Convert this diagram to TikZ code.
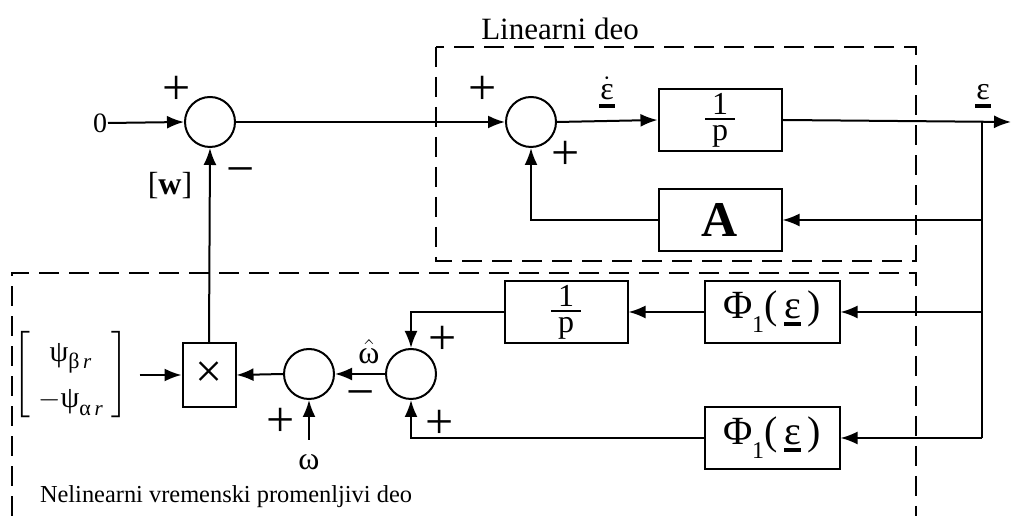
\documentclass[tikz,border=0pt]{standalone}
\usepackage{amsmath}
\usepackage{fontspec}
\setmainfont{Liberation Serif}
\usetikzlibrary{arrows.meta}
\newcommand\ulsym[1]{\leavevmode\vtop{\hbox{#1}\kern1.2pt\hrule height 2pt}}
\newcommand\onep{$\vcenter{\hbox to 15pt{\hfil 1\hfil}\kern2pt\hrule height 0.9pt\kern2.5pt\hbox to 15pt{\hfil p\hfil}}$}
\begin{document}
\begin{tikzpicture}[x=0.5pt,y=-0.5pt, line width=1pt,
  >={Latex[length=8.5pt,width=6.5pt]},
  sumc/.style={draw,circle,minimum size=25pt,inner sep=0pt},
  blk/.style={draw,minimum width=61.5pt,minimum height=31pt,inner sep=0pt},
  phiblk/.style={draw,minimum width=67.5pt,minimum height=31pt,inner sep=0pt,font=\fontsize{20}{20}\selectfont},
  frac/.style={font=\fontsize{16}{16}\selectfont},
  sgn/.style={inner sep=0pt,font=\fontsize{25}{25}\selectfont},
  lbl/.style={inner sep=0pt,font=\fontsize{12.2}{14}\selectfont},
  sym/.style={inner sep=0pt,font=\fontsize{16}{16}\selectfont},
  ulrule/.style={line width=2pt,line cap=butt},
  dbox/.style={dashed,dash pattern=on 10pt off 5pt,line width=0.8pt}]
\useasboundingbox (0,0) rectangle (1011,522);
% dashed regions
\draw[dbox] (436,47) rectangle (916,261);
\draw[dbox] (12,516) -- (12,273) -- (916,273) -- (916,516);
\node[lbl,font=\fontsize{15.5}{17}\selectfont,anchor=base] (tlin) at (560,40) {Linearni deo};
\node[lbl] (tnl) at (226,497) {Nelinearni vremenski promenljivi deo};
% top row
\node[sym,font=\fontsize{14}{14}\selectfont] (zero) at (100,123) {0};
\node[sumc] (s1) at (210,122) {};
\node[sumc] (s2) at (531,122) {};
\node[blk,frac] (ip1) at (720,120) {\onep};
\node[blk,font=\fontsize{25}{25}\selectfont\bfseries] (A) at (720,220) {A};
\coordinate (out) at (1011,122);
\coordinate (br1) at (982,122);
\coordinate (br2) at (982,220);
\coordinate (br3) at (982,312);
\coordinate (br4) at (982,438);
\node[sgn] (p1) at (177,90) {+};
\node[sgn] (m1) at (241,177) {−};
\node[sgn] (p2) at (483,90) {+};
\node[sgn] (p3) at (566,155) {+};
\node[sym,anchor=base] (edot) at (607,100) {$\dot{\text{ε}}$};
\node[sym,anchor=base] (eps) at (983,100) {ε};
\draw[ulrule] ([yshift=-3pt]edot.base west) -- ([yshift=-3pt]edot.base east);
\draw[ulrule] ([yshift=-3pt]eps.base west) -- ([yshift=-3pt]eps.base east);
\node[sym] (w) at (170,186) {[\textbf{w}]};
% bottom part
\node[blk,frac] (ip2) at (566,312) {\onep};
\node[phiblk] (phi1) at (772,312) {Φ\raisebox{-0.35em}{\fontsize{12}{12}\selectfont 1}(\,\ulsym{ε}\,)};
\node[phiblk] (phi2) at (772,438) {Φ\raisebox{-0.35em}{\fontsize{12}{12}\selectfont 1}(\,\ulsym{ε}\,)};
\node[sumc] (s3) at (411,374) {};
\node[sumc] (s4) at (309,374) {};
\node[draw,minimum width=26.5pt,minimum height=32pt,inner sep=0pt,font=\fontsize{24}{24}\selectfont] (mul) at (209,375) {×};
\node[inner sep=0pt,font=\fontsize{15}{15}\selectfont] (mat) at (71,375)
  {$\setlength{\arraycolsep}{4pt}\renewcommand{\arraystretch}{1.55}\left[\begin{array}{c}\text{ψ}_{\text{\fontsize{11}{11}\selectfont β}\,\mathit{r}}\\ -\text{ψ}_{\text{\fontsize{11}{11}\selectfont α}\,\mathit{r}}\end{array}\right]$};
\node[sgn] (p4) at (443,340) {+};
\node[sgn] (p5) at (440,424) {+};
\node[sgn] (m2) at (361,400) {−};
\node[sgn] (p6) at (281,422) {+};
\node[sym] (wh) at (369,352) {$\hat{\text{ω}}$};
\node[sym] (om) at (309,462) {ω};
\coordinate (omin) at (309,440);
% connectors
\draw[->] (zero.east) -- (s1.west);
\draw[->] (s1.east) -- (s2.west);
\draw[->] (s2.east) -- (ip1.west);
\draw[->] (ip1.east) -- (out);
\draw (br1) -- (br4);
\draw[->] (br2) -- (A.east);
\draw[->] (A.west) -| (s2.south);
\draw[->] (br3) -- (phi1.east);
\draw[->] (br4) -- (phi2.east);
\draw[->] (phi1.west) -- (ip2.east);
\draw[->] (ip2.west) -| (s3.north);
\draw[->] (phi2.west) -| (s3.south);
\draw[->] (s3.west) -- (s4.east);
\draw[->] (s4.west) -- (mul.east);
\draw[->] (omin) -- (s4.south);
\draw[->] (mat.east) ++(10,0) -- (mul.west);
\draw[->] (mul.north) -- (s1.south);
\end{tikzpicture}
\end{document}
